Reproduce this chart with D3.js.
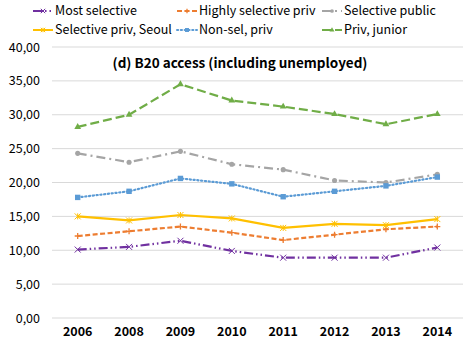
<!DOCTYPE html>
<html>
<head>
<meta charset="utf-8">
<script src="https://cdn.jsdelivr.net/npm/d3@7"></script>
<style>
  html, body { margin: 0; padding: 0; background: #fff; }
  svg { display: block; }
  text { font-family: "Noto Sans CJK KR", "Noto Sans", "Open Sans", sans-serif; fill: #000; }
</style>
</head>
<body>
<svg id="chart" width="470" height="344"></svg>
<script>
// Years on the horizontal axis
const years = ["2006", "2008", "2009", "2010", "2011", "2012", "2013", "2014"];

// Share with B20 access (%), by university group
const mostSelective      = [10.1, 10.5, 11.4, 9.9, 8.9, 8.9, 8.9, 10.4];
const highlySelectivePriv = [12.1, 12.8, 13.5, 12.6, 11.5, 12.3, 13.1, 13.5];
const selectivePublic    = [24.3, 23.0, 24.6, 22.7, 21.9, 20.3, 20.0, 21.2];
const selectivePrivSeoul = [15.0, 14.4, 15.2, 14.7, 13.3, 13.9, 13.7, 14.6];
const nonSelPriv         = [17.8, 18.7, 20.6, 19.8, 17.9, 18.7, 19.5, 20.8];
const privJunior         = [28.2, 30.0, 34.5, 32.1, 31.2, 30.1, 28.6, 30.1];

const yTicks = [0, 5, 10, 15, 20, 25, 30, 35, 40];
const seriesNames = ["Most selective", "Highly selective priv", "Selective public",
                     "Selective priv, Seoul", "Non-sel, priv", "Priv, junior"];

const series = [
  { name: seriesNames[0], values: mostSelective,       color: "#7030A0", dash: "9,3,1.5,3,1.5,3", marker: "x" },
  { name: seriesNames[1], values: highlySelectivePriv, color: "#ED7D31", dash: "5,2.5",            marker: "plus" },
  { name: seriesNames[2], values: selectivePublic,     color: "#A5A5A5", dash: "9,4,2,4",          marker: "circle" },
  { name: seriesNames[3], values: selectivePrivSeoul,  color: "#FFC000", dash: null,               marker: "star" },
  { name: seriesNames[4], values: nonSelPriv,          color: "#5B9BD5", dash: "1.2,2.6",          marker: "square", cap: "round" },
  { name: seriesNames[5], values: privJunior,          color: "#70AD47", dash: "9,4",              marker: "triangle" }
];

const svg = d3.select("#chart");
const margin = { left: 52, right: 7, top: 47, bottom: 26 };
const W = 470, H = 344;

const x = d3.scaleBand().domain(years).range([margin.left, W - margin.right]);
const y = d3.scaleLinear().domain([0, 40]).range([H - margin.bottom, margin.top]);

// Horizontal gridlines
svg.append("g").selectAll("line").data(yTicks).join("line")
  .attr("x1", margin.left).attr("x2", W - margin.right)
  .attr("y1", d => y(d)).attr("y2", d => y(d))
  .attr("stroke", "#d9d9d9").attr("stroke-width", 1);

// Y axis labels
const fmt = v => d3.format(".2f")(v).replace(".", ",");
const yAxis = svg.append("g").attr("transform", `translate(${margin.left},0)`)
  .call(d3.axisLeft(y).tickValues(yTicks).tickFormat(fmt).tickSize(0).tickPadding(12));
yAxis.select(".domain").remove();
yAxis.selectAll("text").attr("font-size", 12.5).attr("fill", "#000")
  .attr("font-family", "'Noto Sans CJK KR', 'Noto Sans', sans-serif");

// X axis labels
const xAxis = svg.append("g").attr("transform", `translate(0,${y(0)})`)
  .call(d3.axisBottom(x).tickSize(0).tickPadding(9));
xAxis.select(".domain").remove();
xAxis.selectAll("text").attr("font-size", 12.5).attr("font-weight", "bold").attr("fill", "#000")
  .attr("font-family", "'Noto Sans CJK KR', 'Noto Sans', sans-serif");

// Title inside the plot
svg.append("text")
  .attr("x", 240).attr("y", 68)
  .attr("text-anchor", "middle")
  .attr("font-size", 13.5).attr("font-weight", "bold")
  .text("(d) B20 access (including unemployed)");

// Marker drawing
function drawMarker(g, type, color, size) {
  const s = size;
  if (type === "x") {
    g.append("path").attr("d", `M${-s},${-s}L${s},${s}M${-s},${s}L${s},${-s}`)
      .attr("stroke", color).attr("stroke-width", 1).attr("fill", "none");
  } else if (type === "plus") {
    g.append("path").attr("d", `M${-s},0L${s},0M0,${-s}L0,${s}`)
      .attr("stroke", color).attr("stroke-width", 1.3).attr("fill", "none");
  } else if (type === "circle") {
    g.append("circle").attr("r", s * 0.85).attr("fill", color);
  } else if (type === "star") {
    g.append("path").attr("d", `M${-s},${-s}L${s},${s}M${-s},${s}L${s},${-s}M0,${-s}L0,${s}`)
      .attr("stroke", color).attr("stroke-width", 1).attr("fill", "none");
  } else if (type === "square") {
    g.append("rect").attr("x", -s * 0.9).attr("y", -s * 0.9)
      .attr("width", s * 1.8).attr("height", s * 1.8).attr("fill", color);
  } else if (type === "triangle") {
    g.append("path").attr("d", d3.symbol(d3.symbolTriangle, s * s * 2.2)())
      .attr("fill", color);
  }
}

const line = d3.line()
  .x((d, i) => x(years[i]) + x.bandwidth() / 2)
  .y(d => y(d));

// Series lines and markers
series.forEach(s => {
  svg.append("path")
    .datum(s.values)
    .attr("d", line)
    .attr("fill", "none")
    .attr("stroke", s.color)
    .attr("stroke-width", 2.2)
    .attr("stroke-linecap", s.cap || "butt")
    .attr("stroke-dasharray", s.dash);
  s.values.forEach((v, i) => {
    const g = svg.append("g")
      .attr("transform", `translate(${x(years[i]) + x.bandwidth() / 2},${y(v)})`);
    drawMarker(g, s.marker, s.color, 3);
  });
});

// Legend: two rows of three entries
const legendCols = [33, 177, 322];
const legendRows = [11, 30];
series.forEach((s, i) => {
  const lx = legendCols[i % 3], ly = legendRows[Math.floor(i / 3)];
  const g = svg.append("g").attr("transform", `translate(${lx},${ly})`);
  g.append("line").attr("x1", 0).attr("x2", 20).attr("y1", 0).attr("y2", 0)
    .attr("stroke", s.color).attr("stroke-width", 2)
    .attr("stroke-linecap", s.cap || "butt")
    .attr("stroke-dasharray", s.dash);
  const m = g.append("g").attr("transform", "translate(10,0)");
  drawMarker(m, s.marker, s.color, 2.2);
  g.append("text").attr("x", 22).attr("y", 0).attr("dy", "0.35em")
    .attr("font-size", 12.5).text(s.name);
});
</script>
</body>
</html>
